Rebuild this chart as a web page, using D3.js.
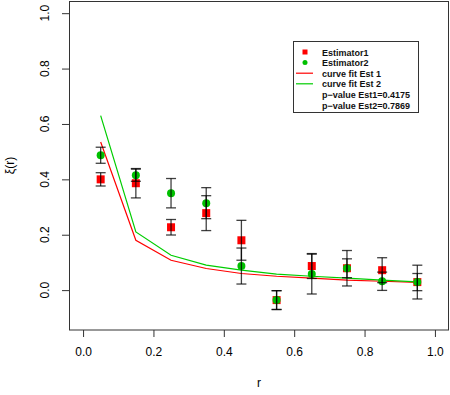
<!DOCTYPE html>
<html>
<head>
<meta charset="utf-8">
<script src="https://cdn.jsdelivr.net/npm/d3@7"></script>
<style>
  body { margin: 0; background: #fff; overflow: hidden; }
  svg { display: block; }
  text { font-family: "Liberation Sans", Arial, sans-serif; }
</style>
</head>
<body>
<div id="plot"></div>
<script>
// data
const rValues = [0.05, 0.15, 0.25, 0.35, 0.45, 0.55, 0.65, 0.75, 0.85, 0.95];
const est1 = [0.400, 0.386, 0.227, 0.278, 0.180, -0.036, 0.087, 0.079, 0.072, 0.029];
const est1Err = [0.024, 0.053, 0.028, 0.063, 0.072, 0.034, 0.045, 0.034, 0.045, 0.031];
const est2 = [0.487, 0.415, 0.350, 0.314, 0.087, -0.036, 0.058, 0.079, 0.032, 0.029];
const est2Err = [0.029, 0.022, 0.053, 0.056, 0.065, 0.034, 0.072, 0.064, 0.033, 0.061];
const fit1 = [0.535, 0.180, 0.108, 0.078, 0.060, 0.050, 0.043, 0.036, 0.032, 0.028];
const fit2 = [0.630, 0.210, 0.126, 0.090, 0.072, 0.058, 0.050, 0.043, 0.036, 0.030];
const xTicks = [0.0, 0.2, 0.4, 0.6, 0.8, 1.0];
const yTicks = [0.0, 0.2, 0.4, 0.6, 0.8, 1.0];
const legendLabels = ["Estimator1", "Estimator2", "curve fit Est 1", "curve fit Est 2",
  "p\u2212value Est1=0.4175", "p\u2212value Est2=0.7869"];

const w = 450, h = 395;
const margin = {left: 69, right: 1, top: 1, bottom: 65};
const innerWidth = w - margin.left - margin.right;
const innerHeight = h - margin.top - margin.bottom;

const xScale = d3.scaleLinear().domain([-0.04, 1.04]).range([0, innerWidth]);
const yScale = d3.scaleLinear().domain([-0.144, 1.044]).range([innerHeight, 0]);

const xAxis = d3.axisBottom(xScale).tickValues(xTicks).tickFormat(d3.format(".1f")).tickSize(7).tickPadding(10);
const yAxis = d3.axisLeft(yScale).tickValues(yTicks).tickFormat("").tickSize(7);

const svg = d3.select("div#plot")
  .append("svg")
  .attr("width", w)
  .attr("height", h);

const plot = svg.append("g")
  .attr("id", "plotarea")
  .attr("transform", `translate(${margin.left}, ${margin.top})`);

// x axis
const gx = plot.append("g")
  .attr("transform", `translate(0, ${innerHeight})`)
  .call(xAxis);
gx.select(".domain").remove();
gx.selectAll("line").attr("stroke", "#333");
gx.selectAll("text").attr("font-size", 12).attr("fill", "#000");

// y axis (tick labels rotated like R's default)
const gy = plot.append("g").call(yAxis);
gy.select(".domain").remove();
gy.selectAll("line").attr("stroke", "#333");
plot.append("g").selectAll("text")
  .data(yTicks)
  .enter()
  .append("text")
  .attr("transform", d => `translate(-20, ${yScale(d)}) rotate(-90)`)
  .attr("text-anchor", "middle")
  .attr("font-size", 12)
  .text(d3.format(".1f"));

// frame
plot.append("rect")
  .attr("x", 0.5)
  .attr("y", 0.5)
  .attr("width", innerWidth - 1)
  .attr("height", innerHeight - 0.5)
  .attr("fill", "none")
  .attr("stroke", "#333");

// axis titles
plot.append("text")
  .attr("x", innerWidth / 2)
  .attr("y", innerHeight + 57)
  .attr("text-anchor", "middle")
  .attr("font-size", 12)
  .text("r");

svg.append("text")
  .attr("transform", `translate(14, ${margin.top + yScale(0.45)}) rotate(-90)`)
  .attr("text-anchor", "middle")
  .attr("font-size", 12)
  .text("\u03be(r)");

// curves
const line = d3.line().x((d, i) => xScale(rValues[i])).y(d => yScale(d));
plot.append("path").datum(fit1)
  .attr("d", line).attr("fill", "none").attr("stroke", "#ff0000").attr("stroke-width", 1.2);
plot.append("path").datum(fit2)
  .attr("d", line).attr("fill", "none").attr("stroke", "#00cd00").attr("stroke-width", 1.2);

// points
plot.append("g").selectAll("rect")
  .data(est1)
  .enter()
  .append("rect")
  .attr("x", (d, i) => xScale(rValues[i]) - 4)
  .attr("y", d => yScale(d) - 4)
  .attr("width", 8)
  .attr("height", 8)
  .attr("fill", "#ff0000");

plot.append("g").selectAll("circle")
  .data(est2)
  .enter()
  .append("circle")
  .attr("cx", (d, i) => xScale(rValues[i]))
  .attr("cy", d => yScale(d))
  .attr("r", 4)
  .attr("fill", "#00c000");

// error bars
function errorBars(vals, errs) {
  const g = plot.append("g")
    .attr("stroke", "#000")
    .attr("stroke-opacity", 0.75)
    .attr("stroke-width", 1.3);
  vals.forEach((v, i) => {
    const x = xScale(rValues[i]);
    const y0 = yScale(v - errs[i]), y1 = yScale(v + errs[i]);
    g.append("line").attr("x1", x).attr("x2", x).attr("y1", y0).attr("y2", y1);
    g.append("line").attr("x1", x - 5).attr("x2", x + 5).attr("y1", y0).attr("y2", y0);
    g.append("line").attr("x1", x - 5).attr("x2", x + 5).attr("y1", y1).attr("y2", y1);
  });
}
errorBars(est1, est1Err);
errorBars(est2, est2Err);

// legend
const legend = svg.append("g").attr("transform", "translate(293, 41)");
legend.append("rect")
  .attr("x", 0.5).attr("y", 0.5)
  .attr("width", 125).attr("height", 71)
  .attr("fill", "#fff")
  .attr("stroke", "#333");

const rows = legend.selectAll("g.row")
  .data(legendLabels)
  .enter()
  .append("g")
  .attr("class", "row")
  .attr("transform", (d, i) => `translate(0, ${11 + i * 10.6})`);

rows.append("text")
  .attr("x", 29)
  .attr("y", 3.5)
  .attr("font-size", 9)
  .attr("font-weight", "bold")
  .attr("fill", "#111")
  .text(d => d);

rows.filter((d, i) => i === 0).append("rect")
  .attr("x", 9.5).attr("y", -2.5).attr("width", 5).attr("height", 5).attr("fill", "#ff0000");
rows.filter((d, i) => i === 1).append("circle")
  .attr("cx", 12).attr("cy", 0).attr("r", 2.5).attr("fill", "#00c000");
rows.filter((d, i) => i === 2).append("line")
  .attr("x1", 3).attr("x2", 20).attr("stroke", "#ff0000").attr("stroke-width", 1.2);
rows.filter((d, i) => i === 3).append("line")
  .attr("x1", 3).attr("x2", 20).attr("stroke", "#00cd00").attr("stroke-width", 1.2);
</script>
</body>
</html>
